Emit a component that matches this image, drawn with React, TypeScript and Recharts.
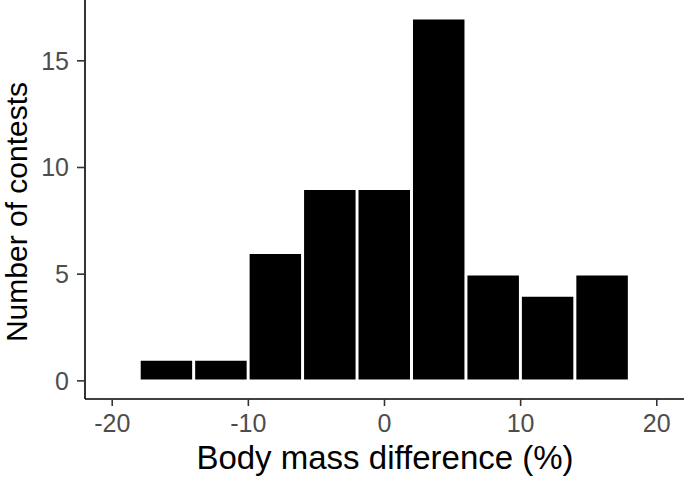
import { BarChart, Bar, XAxis, YAxis, Label } from "recharts";

// histogram bins (4% wide), centre of each bin and the number of contests in it
const binMids = [-16, -12, -8, -4, 0, 4, 8, 12, 16];
const counts = [1, 1, 6, 9, 9, 17, 5, 4, 5];
const xTicks = [-20, -10, 0, 10, 20];
const yTicks = [0, 5, 10, 15];

const data = binMids.map((mid, i) => ({ mid, count: counts[i] }));

const FONT = "'Liberation Sans', Arial, sans-serif";
const tickStyle = { fill: "#4D4D4D", fontSize: 25, fontFamily: FONT };

export default function App() {
  return (
    <div style={{ position: "absolute", left: 0, top: 0, background: "#fff" }}>
      <BarChart
        width={685}
        height={480}
        data={data}
        margin={{ top: 0, right: 1, bottom: 0, left: 0 }}
        barCategoryGap={0}
        barGap={0}
      >
        <XAxis
          dataKey="mid"
          type="number"
          domain={[-22, 22]}
          ticks={xTicks}
          allowDataOverflow
          height={81}
          tickSize={7}
          tickMargin={8}
          tick={tickStyle}
          axisLine={{ stroke: "#000", strokeWidth: 1.6 }}
          tickLine={{ stroke: "#333", strokeWidth: 1.6 }}
        >
          <Label
            content={() => (
              <text x={385} y={469} textAnchor="middle" fontSize={33} fontFamily={FONT} fill="#000">
                Body mass difference (%)
              </text>
            )}
          />
        </XAxis>
        <YAxis
          type="number"
          domain={[-0.85, 17.85]}
          ticks={yTicks}
          allowDataOverflow
          width={85}
          tickSize={8}
          tickMargin={8}
          tick={tickStyle}
          axisLine={{ stroke: "#000", strokeWidth: 1.6 }}
          tickLine={{ stroke: "#333", strokeWidth: 1.6 }}
        >
          <Label
            content={() => (
              <text
                x={27}
                y={212}
                transform="rotate(-90, 27, 212)"
                textAnchor="middle"
                fontSize={30}
                fontFamily={FONT}
                fill="#000"
              >
                Number of contests
              </text>
            )}
          />
        </YAxis>
        <Bar dataKey="count" fill="#000" stroke="#fff" strokeWidth={2.5} isAnimationActive={false} />
      </BarChart>
    </div>
  );
}
